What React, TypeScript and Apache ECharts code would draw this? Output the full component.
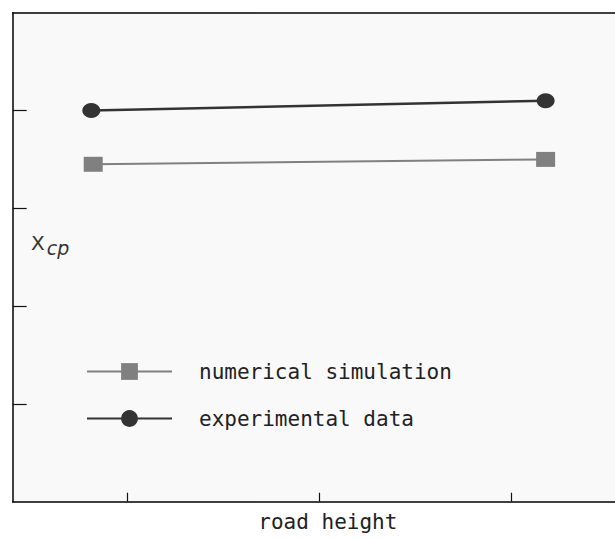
import React, { useEffect, useRef } from "react";
import * as echarts from "echarts";

const xTicks = [1, 2, 3];
const yTicks = [1, 2, 3, 4];
const experimentalX = [0.81, 3.18];
const experimentalY = [4.0, 4.1];
const numericalX = [0.82, 3.18];
const numericalY = [3.45, 3.5];
const seriesNames = ["numerical simulation", "experimental data"];
const xAxisName = "road height";

const FONT = "'DejaVu Sans Mono', monospace";

export default function App() {
  const ref = useRef<HTMLDivElement>(null);
  useEffect(() => {
    if (!ref.current) return;
    const chart = echarts.init(ref.current, undefined, { renderer: "svg" });
    const pair = (xs: number[], ys: number[]) => xs.map((x, i) => [x, ys[i]]);
    chart.setOption({
      animation: false,
      backgroundColor: "#ffffff",
      grid: {
        left: 12.7,
        top: 12.7,
        right: 0,
        height: 489,
        show: true,
        backgroundColor: "#f9f9f9",
        borderWidth: 0,
      },
      legend: {
        orient: "vertical",
        left: 86,
        top: 361,
        padding: 0,
        itemWidth: 85,
        itemHeight: 21,
        itemGap: 26,
        data: seriesNames,
        textStyle: {
          fontFamily: FONT,
          fontSize: 21,
          color: "#222",
          padding: [0, 0, 0, 22],
        },
      },
      graphic: [
        {
          type: "text",
          left: 31,
          top: 233,
          style: {
            text: "{x|X}{s|cp}",
            rich: {
              x: { fontFamily: "'DejaVu Sans', sans-serif", fontSize: 20, fill: "#333" },
              s: {
                fontFamily: "'DejaVu Sans', sans-serif",
                fontStyle: "italic",
                fontSize: 19,
                fill: "#333",
                padding: [10, 0, 0, 2],
              },
            },
          },
        },
      ],
      xAxis: [
        {
          type: "value",
          min: 0.4,
          max: 0.4 + 602.3 / 191.7,
          name: xAxisName,
          nameLocation: "middle",
          nameGap: 10,
          nameTextStyle: {
            fontFamily: FONT,
            fontSize: 21,
            color: "#222",
            padding: [0, 0, 0, 28],
          },
          axisLine: { show: true, lineStyle: { color: "#000", width: 1.5 } },
          axisTick: {
            show: true,
            inside: true,
            length: 9,
            customValues: xTicks,
            lineStyle: { color: "#111", width: 1.2 },
          },
          axisLabel: { show: false, customValues: xTicks },
          splitLine: { show: false },
        },
        {
          type: "value",
          position: "top",
          min: 0.4,
          max: 0.4 + 602.3 / 191.7,
          axisLine: { show: true, lineStyle: { color: "#000", width: 1.5 } },
          axisTick: { show: false },
          axisLabel: { show: false },
          splitLine: { show: false },
        },
      ],
      yAxis: {
        type: "value",
        min: 0,
        max: 5,
        axisLine: { show: true, lineStyle: { color: "#000", width: 1.5 } },
        axisTick: {
          show: true,
          inside: true,
          length: 14,
          customValues: yTicks,
          lineStyle: { color: "#111", width: 1.2 },
        },
        axisLabel: { show: false, customValues: yTicks },
        splitLine: { show: false },
      },
      series: [
        {
          name: seriesNames[0],
          type: "line",
          data: pair(numericalX, numericalY),
          symbol: "rect",
          symbolSize: [19, 15],
          lineStyle: { color: "#808080", width: 2 },
          itemStyle: { color: "#808080" },
        },
        {
          name: seriesNames[1],
          type: "line",
          data: pair(experimentalX, experimentalY),
          symbol: "circle",
          symbolSize: [18, 15],
          lineStyle: { color: "#333333", width: 2.5 },
          itemStyle: { color: "#333333" },
        },
      ],
    });
    return () => chart.dispose();
  }, []);
  return (
    <div
      ref={ref}
      style={{ position: "fixed", left: 0, top: 0, width: 615, height: 539, overflow: "hidden" }}
    />
  );
}
